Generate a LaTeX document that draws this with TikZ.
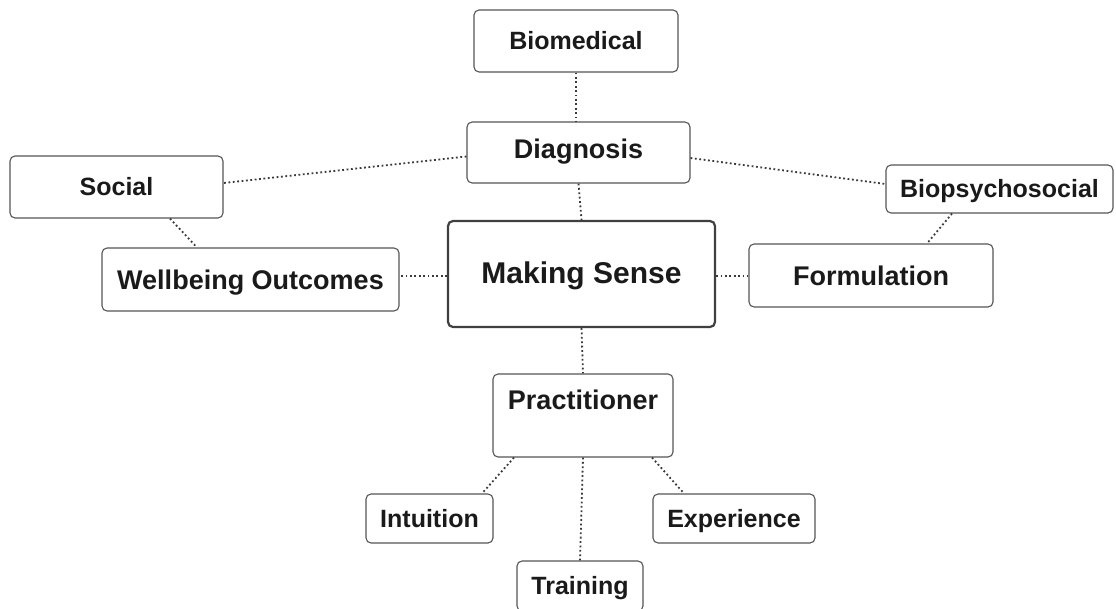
\documentclass[tikz,border=0pt]{standalone}
\usepackage{fontspec}
\setmainfont{Liberation Sans}
\begin{document}
\begin{tikzpicture}[x=1pt,y=-1pt,
  box/.style={draw=boxgray, line width=1.1pt, rounded corners=5pt, fill=white,
    inner sep=0pt, text=ink, text height=17.9pt, text depth=0pt,
    font=\bfseries\fontsize{25}{30}\selectfont},
  bigtext/.style={text height=19.3pt, font=\bfseries\fontsize{27}{32}\selectfont},
  hub/.style={box, draw=hubgray, line width=2.2pt, text height=21.5pt,
    font=\bfseries\fontsize{30}{36}\selectfont},
  link/.style={draw=dotgray, line width=1.8pt, dash pattern=on 1.8pt off 2.6pt}]
\definecolor{boxgray}{HTML}{555555}
\definecolor{hubgray}{HTML}{404040}
\definecolor{dotgray}{HTML}{3A3A3A}
\definecolor{ink}{HTML}{1A1A1A}
\useasboundingbox (0,0) rectangle (1116,608);
\clip (0,0) rectangle (1116,608);

% centre and outer branches
\node[hub, minimum width=267pt, minimum height=106pt, text depth=2pt] (make) at (581.5,274) {Making Sense};
\node[box, bigtext, minimum width=223pt, minimum height=61pt, text depth=7pt] (diag) at (578.5,152.5) {Diagnosis};
\node[box, minimum width=204pt, minimum height=62pt] (bio) at (576,41) {Biomedical};
\node[box, minimum width=213pt, minimum height=62pt] (social) at (116.5,187) {Social};
\node[box, bigtext, minimum width=297pt, minimum height=63pt] (well) at (250.5,279.5) {Wellbeing Outcomes};
\node[box, minimum width=227pt, minimum height=48pt] (biops) at (999.5,189) {Biopsychosocial};
\node[box, bigtext, minimum width=244pt, minimum height=63pt] (form) at (871,275.5) {Formulation};
\node[box, bigtext, minimum width=180pt, minimum height=83pt,
      text height=35pt, text depth=48pt] (prac) at (583,415.5) {Practitioner};
\node[box, minimum width=127pt, minimum height=49pt] (intu) at (429.5,518.5) {Intuition};
\node[box, minimum width=162pt, minimum height=49pt] (exp) at (734,518.5) {Experience};
\node[box, minimum width=126pt, minimum height=50pt] (train) at (580,586) {Training};

% dotted connectors
\draw[link] (bio.south) -- (bio.south |- diag.north);
\draw[link] (diag.south) -- (make.north);
\draw[link] ([yshift=-4pt]diag.west) -- ([yshift=4pt]social.east);
\draw[link] ([yshift=-5.5pt]diag.east) -- ([yshift=5pt]biops.west);
\draw[link] ([xshift=53.5pt]social.south) -- ([xshift=-53.5pt]well.north);
\draw[link] ([yshift=-2pt]make.west) -- ([yshift=-2pt]make.west -| well.east);
\draw[link] ([yshift=-2pt]make.east) -- ([yshift=-2pt]make.east -| form.west);
\draw[link] ([xshift=-47.5pt]biops.south) -- ([xshift=56pt]form.north);
\draw[link] (make.south) -- (prac.north);
\draw[link] (prac.south) -- (train.north);
\draw[link] ([xshift=-69pt]prac.south) -- ([xshift=52.5pt]intu.north);
\draw[link] ([xshift=69pt]prac.south) -- ([xshift=-50pt]exp.north);
\end{tikzpicture}
\end{document}
